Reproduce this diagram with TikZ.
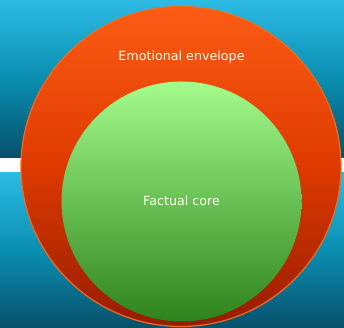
\documentclass[tikz,border=0pt]{standalone}
\usepackage{fontspec}
\setmainfont{DejaVu Sans}
\definecolor{bgtop}{HTML}{2CBBE4}
\definecolor{bgmid}{HTML}{0A8EB0}
\definecolor{bgbot}{HTML}{06506A}
\definecolor{envtop}{HTML}{FC5C14}
\definecolor{envmid}{HTML}{DE3A00}
\definecolor{envbot}{HTML}{961C00}
\definecolor{envrim}{HTML}{F26C1E}
\definecolor{coretop}{HTML}{A4FC8C}
\definecolor{corebot}{HTML}{2E841C}
\tikzset{
  bgband/.style={draw=none,top color=bgtop,bottom color=bgbot,middle color=bgmid},
  envelope/.style={circle,inner sep=0pt,minimum size=320pt,draw=envrim,line width=1.2pt,top color=envtop,bottom color=envbot,middle color=envmid},
  core/.style={circle,inner sep=0pt,minimum size=240pt,draw=none,top color=coretop,bottom color=corebot},
  lbl/.style={text=white!94!yellow,font=\fontsize{12.7}{14}\selectfont}
}
\begin{document}
\begin{tikzpicture}[x=1pt,y=1pt]
\useasboundingbox (0,0) rectangle (344,328);
\fill[white] (0,0) rectangle (344,328);
\shade[bgband] (0,170.5) rectangle (344,328);
\shade[bgband] (0,0) rectangle (344,155.5);
\node[envelope] (outer) at (181,161.5) {};
\node[core] (inner) at (181.5,126.5) {};
\node[lbl] (envlabel) at (181.5,271) {Emotional envelope};
\node[lbl] (corelabel) at (181.5,127) {Factual core};
\end{tikzpicture}
\end{document}
